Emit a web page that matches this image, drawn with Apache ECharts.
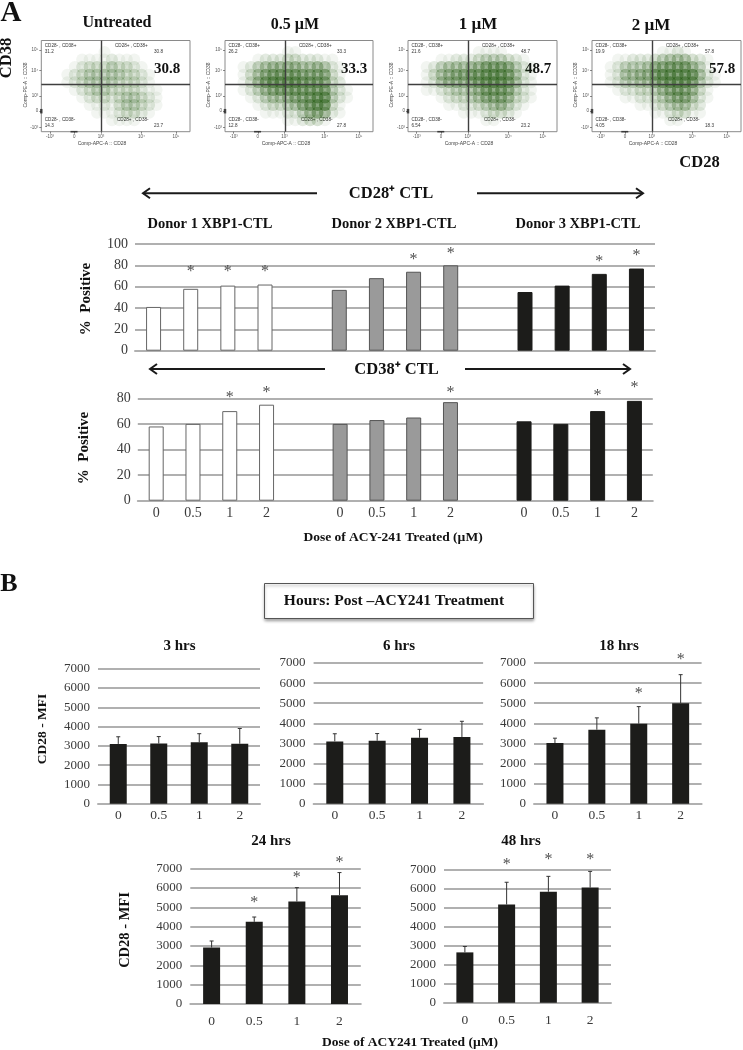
<!DOCTYPE html>
<html>
<head>
<meta charset="utf-8">
<style>html,body{margin:0;padding:0;background:#fff}#c{width:743px;height:1050px}</style>
<script src="https://cdn.jsdelivr.net/npm/echarts@6/dist/echarts.min.js"></script>
</head>
<body>
<div id="c"></div>
<script>
// ---------- Panel A, flow plots: event density read by eye (0-9 per cell; 20 columns, rows top to bottom)
const flowUntreated = [
"00000000000000000000","00000000100000000000","00000111121110000000","00001233343321000000",
"00012344444332100000","00012344443332100000","00001234433332110000","00000123323443210000",
"00000011213443210000","00000001112332100000","00000000011110000000","00000000000000000000"];
const flowHalf = [
"00000000000000000000","00000000110000000000","00001222332221100000","00124566665565210000",
"00135788887777310000","00136899998887320000","00124678888888421000","00012455677899421000",
"00001233457899310000","00000111224676210000","00000000112331000000","00000000000000000000"];
const flowOne = [
"00000000000000000000","00000000011110000000","00001122234443210000","00124555668887421000",
"00135677889998521000","00125666789998521000","00112344568887421000","00001233457776321000",
"00000112234564210000","00000001112332100000","00000000001100000000","00000000000000000000"];
const flowTwo = [
"00000000000000000000","00000000011210000000","00011222345553210000","00124445778886410000",
"00125566899999521000","00124455789998421000","00012233467876310000","00001122346775210000",
"00000011234553200000","00000000112331100000","00000000001100000000","00000000000000000000"];
const flowTitles = ["Untreated","0.5 µM","1 µM","2 µM"];
const flowBig = ["30.8","33.3","48.7","57.8"];
const flowQuadTL = ["31.2","26.2","21.6","19.9"];
const flowQuadTR = ["30.8","33.3","48.7","57.8"];
const flowQuadBL = ["14.3","12.8","6.54","4.05"];
const flowQuadBR = ["23.7","27.8","23.2","18.3"];
const flowXTicks = [1.17,4.44,8.03,13.46,18.1];
const flowXTickLabels = ["-10³","0","10³","10⁴","10⁵"];
const flowYTicks = [0.57,2.7,4.71,8.07,10.78];
const flowYTickLabels = ["-10³","0","10³","10⁴","10⁵"];
const flowPileLeft = [[0,2.7]];
const flowPileBottom = [[4.4,0]];

// ---------- Panel A, bar charts
const doses = ["0","0.5","1","2"];
const cd28Donor1 = [41,58,61,62];
const cd28Donor2 = [57,68,74,80];
const cd28Donor3 = [55,61,72,77];
const cd38Donor1 = [58,60,70,75];
const cd38Donor2 = [60,63,65,77];
const cd38Donor3 = [62,60,70,78];
const cd28Stars = [[1,76.5],[2,76.5],[3,76.5],[7,88],[8,93.4],[12,86],[13,91.6]];
const cd38Stars = [[2,82.6],[3,86.5],[8,86.5],[12,84.4],[13,90.2]];

// ---------- Panel B, CD28 MFI
const mfi3 = [3100,3120,3180,3110],  err3 = [3470,3480,3630,3900],  stars3 = [];
const mfi6 = [3100,3130,3280,3320],  err6 = [3480,3490,3700,4100],  stars6 = [];
const mfi18 = [3020,3680,3980,5000], err18 = [3260,4270,4830,6420], stars18 = [[2,5606],[3,7330]];
const mfi24 = [2920,4250,5300,5630], err24 = [3260,4500,6020,6800], stars24 = [[1,5380],[2,6707],[3,7448]];
const mfi48 = [2640,5150,5820,6040], err48 = [2950,6320,6630,6890], stars48 = [[1,7400],[2,7650],[3,7680]];

const SERIF = '"Liberation Serif","Times New Roman",serif';
const SANS = '"Liberation Sans",Arial,sans-serif';
const INK = '#1c1c1a', GRID = '#b0b0b0', TICK = '#3a3a3a';

const grids = [], xAxes = [], yAxes = [], series = [], graphic = [];

function txt(text, x, y, size, o) {
  o = o || {};
  graphic.push({
    type: 'text', x: x, y: y, rotation: o.rot || 0, silent: true,
    style: { text: text, x: 0, y: 0, align: o.align || 'center', verticalAlign: 'middle',
      fill: o.color || '#111', font: (o.bold === false ? '' : 'bold ') + size + 'px ' + (o.family || SERIF) }
  });
}
function arrow(x1, x2, y) {
  const d = x2 > x1 ? 1 : -1;
  graphic.push({ type: 'line', silent: true, shape: { x1: x1, y1: y, x2: x2, y2: y }, style: { stroke: '#1a1a1a', lineWidth: 2 } });
  graphic.push({ type: 'polyline', silent: true,
    shape: { points: [[x2 - d * 7, y - 5], [x2, y], [x2 - d * 7, y + 5]] },
    style: { stroke: '#1a1a1a', lineWidth: 2, fill: 'none' } });
}
function addGrid(g, x, y) {
  const idx = grids.length;
  x.gridIndex = idx; y.gridIndex = idx;
  grids.push(g); xAxes.push(x); yAxes.push(y);
  return idx;
}

function starSeries(idx, data, size, dy) {
  if (!data.length) return;
  series.push({
    type: 'scatter', xAxisIndex: idx, yAxisIndex: idx, data: data, symbolSize: 1, clip: false, silent: true,
    itemStyle: { color: 'rgba(0,0,0,0)' },
    label: { show: true, position: 'inside', formatter: '*', color: '#222', fontSize: size, fontFamily: SERIF, offset: [0, dy] },
    z: 5
  });
}

// ---------- Flow plots
[
  { m: flowUntreated, l: 41.3, r: 190, t: 40.5, b: 131.7, cx: 8.03, big: 167, ty: 23, tc: 117, tsz: 16 },
  { m: flowHalf,      l: 225,  r: 373, t: 40.5, b: 131.7, cx: 8.1,  big: 354, ty: 25, tc: 295, tsz: 16 },
  { m: flowOne,       l: 408,  r: 557, t: 40.5, b: 131.7, cx: 8.06, big: 538, ty: 25, tc: 478, tsz: 17 },
  { m: flowTwo,       l: 592,  r: 741, t: 40.5, b: 131.7, cx: 8.06, big: 722, ty: 26, tc: 651, tsz: 17 }
].forEach(function (p, i) {
  const w = p.r - p.l, h = p.b - p.t;
  const axisFont = { fontSize: 4.5, color: '#555', fontFamily: SANS, margin: 3 };
  const idx = addGrid(
    { left: p.l, top: p.t, width: w, height: h, show: true, borderColor: '#8a8a8a', borderWidth: 1, backgroundColor: '#fff' },
    { type: 'value', min: 0, max: 20, splitLine: { show: false }, axisLine: { show: false },
      axisTick: { show: true, length: 2, customValues: flowXTicks, lineStyle: { color: '#555', width: 0.7 } },
      axisLabel: Object.assign({ customValues: flowXTicks, formatter: function (v) { return flowXTickLabels[flowXTicks.indexOf(v)] || ''; } }, axisFont) },
    { type: 'value', min: 0, max: 12, splitLine: { show: false }, axisLine: { show: false },
      axisTick: { show: true, length: 2, customValues: flowYTicks, lineStyle: { color: '#555', width: 0.7 } },
      axisLabel: Object.assign({ customValues: flowYTicks, formatter: function (v) { return flowYTickLabels[flowYTicks.indexOf(v)] || ''; } }, axisFont) }
  );
  const pts = [];
  p.m.forEach(function (row, r) {
    row.split('').forEach(function (ch, c) {
      const d = +ch;
      if (d > 0) pts.push({ value: [c + 0.5, 11.5 - r], itemStyle: { opacity: d * 0.062 } });
    });
  });
  series.push({
    type: 'scatter', xAxisIndex: idx, yAxisIndex: idx, data: pts, silent: true,
    symbol: 'circle', symbolSize: 12, itemStyle: { color: '#2a5f18' },
    markLine: { silent: true, symbol: 'none', label: { show: false }, animation: false,
      lineStyle: { color: '#3f3f3f', width: 1.4, type: 'solid' },
      data: [{ xAxis: p.cx }, { yAxis: 6.24 }] }
  });
  series.push({ type: 'scatter', xAxisIndex: idx, yAxisIndex: idx, data: flowPileLeft, clip: false, silent: true,
    symbol: 'rect', symbolSize: [2.5, 4.5], itemStyle: { color: '#222' }, z: 4 });
  series.push({ type: 'scatter', xAxisIndex: idx, yAxisIndex: idx, data: flowPileBottom, clip: false, silent: true,
    symbol: 'rect', symbolSize: [7, 1.6], itemStyle: { color: '#222' }, z: 4 });
  txt(flowTitles[i], p.tc, p.ty, p.tsz);
  txt(flowBig[i], p.big, 69, 15);
  const qs = 4.6, qc = '#333', ql = p.l + 3.5, qr = p.cx / 20 * w + p.l;
  const o = { bold: false, family: SANS, align: 'left', color: qc };
  const oR = { bold: false, family: SANS, align: 'right', color: qc };
  txt('CD28- , CD38+', ql, 46, qs, o);
  txt(flowQuadTL[i], ql, 51.5, qs, o);
  txt('CD28+ , CD38+', qr + 14, 46, qs, o);
  txt(flowQuadTR[i], p.r - 27, 51.5, qs, oR);
  txt('CD28- , CD38-', ql, 120, qs, o);
  txt(flowQuadBL[i], ql, 125.7, qs, o);
  txt('CD28+ , CD38-', qr + 16, 120, qs, o);
  txt(flowQuadBR[i], p.r - 27, 125.7, qs, oR);
  txt('Comp-APC-A :: CD28', qr + 1, 144, 5, { bold: false, family: SANS, color: '#444' });
  txt('Comp-PE-A :: CD38', p.l - 16, 85, 5, { bold: false, family: SANS, color: '#444', rot: Math.PI / 2 });
});

// ---------- Grouped bar charts of panel A
function catLabels() { return doses.concat([''], doses, [''], doses); }
function pad(vals, start) {
  const a = new Array(14).fill(null);
  vals.forEach(function (v, i) { a[start + i] = v; });
  return a;
}
function panelA(left, top, width, height, max, d1, d2, d3, stars, showX) {
  const idx = addGrid(
    { left: left, top: top, width: width, height: height },
    { type: 'category', data: catLabels(), axisLine: { lineStyle: { color: GRID, width: 2 } }, axisTick: { show: false },
      axisLabel: { show: showX, interval: 0, fontFamily: SERIF, fontSize: 14, color: TICK, margin: 6 } },
    { type: 'value', min: 0, max: max, interval: 20, axisLine: { show: false }, axisTick: { show: false },
      splitLine: { lineStyle: { color: GRID, width: 2 } },
      axisLabel: { fontFamily: SERIF, fontSize: 14, color: TICK, margin: 7 } }
  );
  const styles = [
    { color: '#ffffff', borderColor: '#666', borderWidth: 1 },
    { color: '#9a9a9a', borderColor: '#555', borderWidth: 1 },
    { color: INK, borderColor: INK, borderWidth: 1 }
  ];
  [[d1, 0], [d2, 5], [d3, 10]].forEach(function (d, i) {
    series.push({ type: 'bar', xAxisIndex: idx, yAxisIndex: idx, stack: 'g' + idx, barWidth: 15, data: pad(d[0], d[1]), itemStyle: styles[i], silent: true, z: 3 });
  });
  starSeries(idx, stars, 16, 3);
}
panelA(135, 244, 520, 106.7, 100, cd28Donor1, cd28Donor2, cd28Donor3, cd28Stars, false);
panelA(137.8, 398.3, 515, 102.4, 80, cd38Donor1, cd38Donor2, cd38Donor3, cd38Stars, true);

// ---------- MFI bar charts of panel B
function panelB(left, top, width, bottom, vals, errs, stars, margin, title, tc, ty) {
  const idx = addGrid(
    { left: left, top: top, width: width, height: bottom - top },
    { type: 'category', data: doses, axisLine: { lineStyle: { color: GRID, width: 2 } }, axisTick: { show: false },
      axisLabel: { interval: 0, fontFamily: SERIF, fontSize: 13.5, color: TICK, margin: margin } },
    { type: 'value', min: 0, max: 7000, interval: 1000, axisLine: { show: false }, axisTick: { show: false },
      splitLine: { lineStyle: { color: GRID, width: 2 } },
      axisLabel: { fontFamily: SERIF, fontSize: 13, color: TICK, margin: 8, formatter: function (v) { return String(v); } } }
  );
  series.push({ type: 'bar', xAxisIndex: idx, yAxisIndex: idx, barWidth: 17, data: vals, itemStyle: { color: INK }, silent: true, z: 3 });
  series.push({
    type: 'custom', xAxisIndex: idx, yAxisIndex: idx, silent: true, z: 4, clip: false,
    data: vals.map(function (v, i) { return [i, v, errs[i]]; }),
    renderItem: function (params, api) {
      const a = api.coord([api.value(0), api.value(1)]);
      const b = api.coord([api.value(0), api.value(2)]);
      const st = { stroke: '#333', lineWidth: 1 };
      return { type: 'group', children: [
        { type: 'line', shape: { x1: a[0], y1: a[1], x2: b[0], y2: b[1] }, style: st },
        { type: 'line', shape: { x1: b[0] - 2, y1: b[1], x2: b[0] + 2, y2: b[1] }, style: st }
      ] };
    }
  });
  starSeries(idx, stars, 16, 3);
  txt(title, tc, ty, 15);
}
panelB(98, 668.7, 162, 803.7, mfi3, err3, stars3, 5, '3 hrs', 179.5, 646);
panelB(313.6, 663, 169.5, 803.7, mfi6, err6, stars6, 5, '6 hrs', 399, 646);
panelB(534, 663, 167.6, 803.7, mfi18, err18, stars18, 5, '18 hrs', 619, 646);
panelB(190.3, 868.7, 170.5, 1004, mfi24, err24, stars24, 10, '24 hrs', 271, 840.7);
panelB(444, 869.3, 167, 1002.7, mfi48, err48, stars48, 11, '48 hrs', 521, 840.7);

// ---------- Annotations
const UP = Math.PI / 2;
txt('A', 11, 14, 29);
txt('CD38', 7, 58, 16.5, { rot: UP });
txt('CD28', 699.5, 162.7, 16.5);
arrow(317, 143, 193.3); arrow(477, 643, 193.3);
txt('CD28⁺ CTL', 391, 194, 16.5);
txt('Donor 1 XBP1-CTL', 210, 224.3, 14.5);
txt('Donor 2 XBP1-CTL', 394, 224.3, 14.5);
txt('Donor 3 XBP1-CTL', 578, 224.3, 14.5);
txt('%  Positive', 86, 299, 15, { rot: UP });
arrow(325, 150, 369); arrow(465, 630, 369);
txt('CD38⁺ CTL', 396.5, 370, 16.5);
txt('%  Positive', 84, 448, 15, { rot: UP });
txt('Dose of ACY-241 Treated (µM)', 393, 538, 13.5);
txt('B', 9, 584, 26);
graphic.push({ type: 'rect', silent: true, shape: { x: 264.5, y: 583.5, width: 269, height: 35 },
  style: { fill: '#fff', stroke: '#555', lineWidth: 1, shadowBlur: 3, shadowOffsetY: 2, shadowColor: 'rgba(0,0,0,0.35)' } });
txt('Hours: Post –ACY241 Treatment', 394, 600.7, 15.5);
txt('CD28 - MFI', 43, 729, 13.5, { rot: UP });
txt('CD28 - MFI', 125, 930, 14.5, { rot: UP });
txt('Dose of ACY241 Treated (µM)', 410, 1042.7, 13.5);

const chart = echarts.init(document.getElementById('c'), null, { renderer: 'canvas', width: 743, height: 1050 });
chart.setOption({
  animation: false, backgroundColor: '#fff',
  grid: grids, xAxis: xAxes, yAxis: yAxes, series: series, graphic: { elements: graphic }
});
</script>
</body>
</html>
